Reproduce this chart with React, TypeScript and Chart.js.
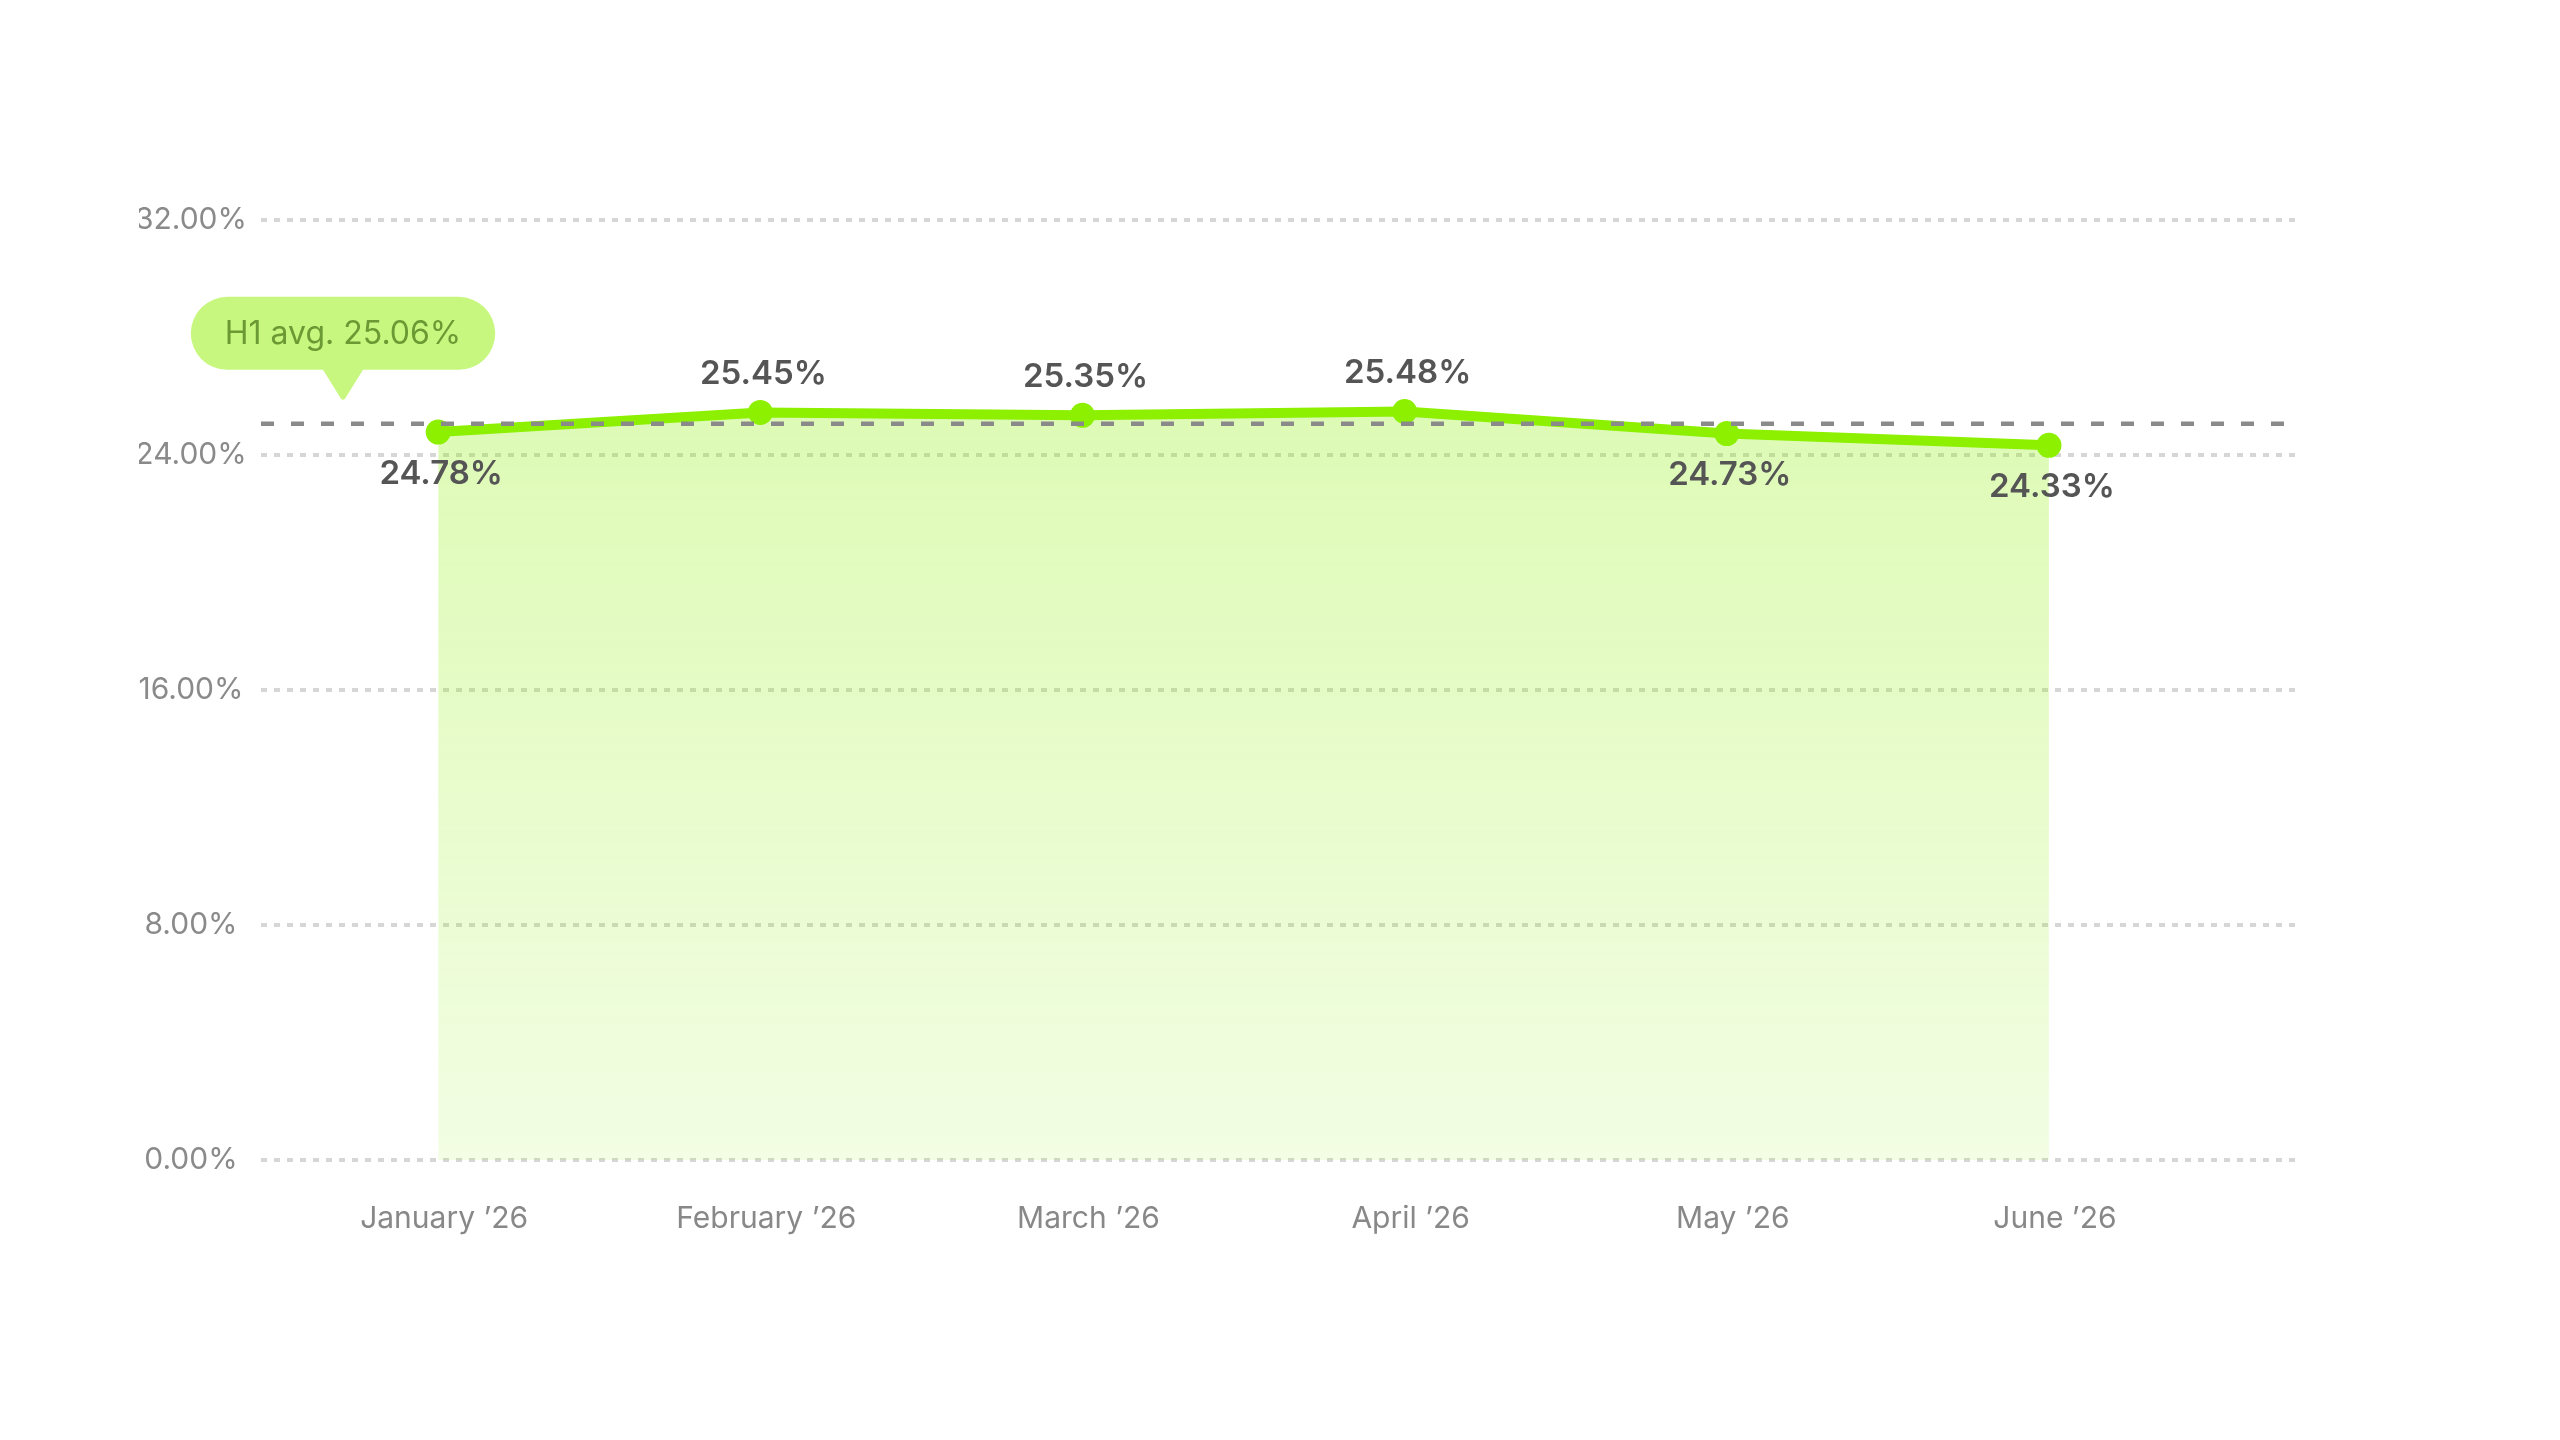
import { useEffect, useRef } from "react"
import { Chart, registerables, type ChartConfiguration, type Plugin } from "chart.js"

Chart.register(...registerables)

const months = ["January ’26", "February ’26", "March ’26", "April ’26", "May ’26", "June ’26"]
const rates = [24.78, 25.45, 25.35, 25.48, 24.73, 24.33]
const avgRate = 25.06
const avgLabel = "H1 avg."

const LIME = "#8CF000"

const pct = (v: number) => v.toFixed(2) + "%"

// dashed average line across the plot
const avgLinePlugin: Plugin<"line"> = {
  id: "avgLine",
  afterDatasetsDraw(chart) {
    const { ctx, chartArea, scales } = chart
    const y = scales.y.getPixelForValue(avgRate)
    ctx.save()
    ctx.strokeStyle = "#8a8a8a"
    ctx.lineWidth = 4.5
    ctx.setLineDash([13, 17])
    ctx.beginPath()
    ctx.moveTo(chartArea.left, y)
    ctx.lineTo(chartArea.right, y)
    ctx.stroke()
    ctx.restore()
  },
}

// value labels, above the point when over the average, below otherwise
const valueLabelPlugin: Plugin<"line"> = {
  id: "valueLabels",
  afterDatasetsDraw(chart) {
    const { ctx } = chart
    const meta = chart.getDatasetMeta(0)
    ctx.save()
    ctx.font = "600 33px Inter"
    ctx.fillStyle = "#555555"
    ctx.textAlign = "center"
    ctx.textBaseline = "middle"
    meta.data.forEach((pt, i) => {
      const v = rates[i]
      const y = v >= avgRate ? pt.y - 38 : pt.y + 42
      ctx.fillText(pct(v), pt.x + 3, y)
    })
    ctx.restore()
  },
}

// speech bubble with the average
const calloutPlugin: Plugin<"line"> = {
  id: "callout",
  afterDraw(chart) {
    const { ctx, chartArea, scales } = chart
    const avgY = scales.y.getPixelForValue(avgRate)
    const text = `${avgLabel} ${pct(avgRate)}`
    ctx.save()
    ctx.font = "400 32px Inter"
    const w = ctx.measureText(text).width + 68
    const h = 73
    const cx = chartArea.left + 82
    const tipY = avgY - 24
    const bottom = tipY - 30
    const top = bottom - h
    const left = cx - w / 2
    const r = h / 2

    ctx.fillStyle = "#C8F77F"
    ctx.beginPath()
    ctx.moveTo(left + r, top)
    ctx.lineTo(left + w - r, top)
    ctx.arc(left + w - r, top + r, r, -Math.PI / 2, Math.PI / 2)
    ctx.lineTo(cx + 20, bottom)
    ctx.lineTo(cx + 2, tipY - 1)
    ctx.quadraticCurveTo(cx, tipY + 1, cx - 2, tipY - 1)
    ctx.lineTo(cx - 20, bottom)
    ctx.lineTo(left + r, bottom)
    ctx.arc(left + r, top + r, r, Math.PI / 2, (Math.PI * 3) / 2)
    ctx.closePath()
    ctx.fill()

    ctx.fillStyle = "#6B9A35"
    ctx.textAlign = "center"
    ctx.textBaseline = "middle"
    ctx.fillText(text, cx, top + h / 2 + 1)
    ctx.restore()
  },
}

export default function App() {
  const canvasRef = useRef<HTMLCanvasElement>(null)
  const chartRef = useRef<Chart | null>(null)

  useEffect(() => {
    document.body.style.margin = "0"
    if (!canvasRef.current) return
    const ctx = canvasRef.current.getContext("2d")
    if (!ctx) return
    if (chartRef.current) chartRef.current.destroy()

    Chart.defaults.font.family = "Inter, 'Noto Sans', sans-serif"

    const config: ChartConfiguration<"line"> = {
      type: "line",
      data: {
        datasets: [
          {
            label: "Rate",
            data: rates.map((v, i) => ({ x: i, y: v })),
            borderColor: LIME,
            borderWidth: 10,
            tension: 0,
            pointRadius: 12.5,
            pointHoverRadius: 12.5,
            pointBackgroundColor: LIME,
            pointBorderWidth: 0,
            fill: "origin",
            backgroundColor: (c) => {
              const { chart } = c
              const area = chart.chartArea
              if (!area) return "rgba(139,239,0,0.2)"
              const top = chart.scales.y.getPixelForValue(Math.max(...rates))
              const g = chart.ctx.createLinearGradient(0, top, 0, area.bottom)
              g.addColorStop(0, "rgba(139,239,0,0.29)")
              g.addColorStop(1, "rgba(139,239,0,0.11)")
              return g
            },
          },
        ],
      },
      options: {
        responsive: false,
        animation: false,
        devicePixelRatio: 1,
        layout: { padding: { left: 139, right: 263, top: 220, bottom: 162 } },
        plugins: {
          legend: { display: false },
          tooltip: { enabled: false },
        },
        scales: {
          x: {
            type: "linear",
            min: -0.55,
            max: 5.77,
            afterBuildTicks: (axis) => {
              axis.ticks = months.map((_, i) => ({ value: i }))
            },
            grid: { display: false, drawTicks: false },
            border: { display: false },
            ticks: {
              color: "#888888",
              font: { size: 30 },
              padding: 41,
              labelOffset: 6,
              maxRotation: 0,
              autoSkip: false,
              callback: (v) => months[Number(v)] ?? "",
            },
          },
          y: {
            min: 0,
            max: 32,
            afterFit: (scale) => {
              scale.width = 122
            },
            grid: { color: "#d6d6d6", lineWidth: 4, drawTicks: false },
            border: { display: false, dash: [6, 7] },
            ticks: {
              stepSize: 8,
              color: "#8a8a8a",
              font: { size: 30 },
              padding: 14,
              crossAlign: "center",
              callback: (v) => pct(Number(v)),
            },
          },
        },
      },
      plugins: [avgLinePlugin, valueLabelPlugin, calloutPlugin],
    }

    chartRef.current = new Chart(ctx, config)
    return () => {
      if (chartRef.current) {
        chartRef.current.destroy()
        chartRef.current = null
      }
    }
  }, [])

  return (
    <div style={{ width: 2560, height: 1440, background: "#ffffff" }}>
      <canvas ref={canvasRef} width={2560} height={1440} style={{ display: "block" }}></canvas>
    </div>
  )
}
